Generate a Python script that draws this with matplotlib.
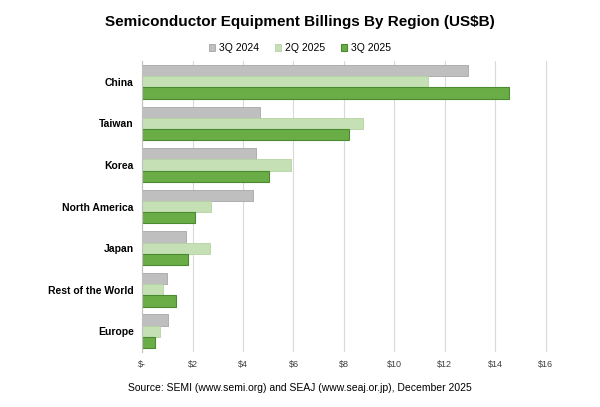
import matplotlib
matplotlib.use("Agg")
import matplotlib.pyplot as plt
import numpy as np

regions = ["China", "Taiwan", "Korea", "North America", "Japan", "Rest of the World", "Europe"]
q3_2024 = [12.92, 4.68, 4.51, 4.40, 1.72, 0.97, 1.03]
q2_2025 = [11.35, 8.76, 5.90, 2.74, 2.69, 0.83, 0.70]
q3_2025 = [14.55, 8.19, 5.04, 2.09, 1.81, 1.35, 0.49]
ticks = [0, 2, 4, 6, 8, 10, 12, 14, 16]
tick_labels = ["$-", "$2", "$4", "$6", "$8", "$10", "$12", "$14", "$16"]

plt.rcParams['font.family'] = ['Liberation Sans', 'DejaVu Sans']
fig = plt.figure(figsize=(6.0, 4.07), dpi=100)
ax = fig.add_axes([0.237, 0.135, 0.685, 0.715])

y = np.arange(len(regions))
h = 0.27
ax.barh(y - h, q3_2024, height=h, color="#bfbfbf", edgecolor="#a6a6a6", lw=0.6, label="3Q 2024")
ax.barh(y, q2_2025, height=h, color="#c5e0b4", edgecolor="#b5d3a2", lw=0.6, label="2Q 2025")
ax.barh(y + h, q3_2025, height=h, color="#6aad47", edgecolor="#4a8a30", lw=0.8, label="3Q 2025")

ax.set_ylim(len(regions) - 0.5, -0.5)
ax.set_xlim(0, 16.3)
ax.set_yticks(y)
ax.set_yticklabels(regions, fontsize=7.5, fontweight="bold")
ax.set_xticks(ticks)
ax.set_xticklabels(tick_labels, fontsize=6.5, color="#404040")
ax.tick_params(length=0, pad=6)
ax.xaxis.grid(True, color="#d9d9d9", lw=0.8)
ax.set_axisbelow(True)
for s in ["top", "right", "bottom"]:
    ax.spines[s].set_visible(False)
ax.spines["left"].set_color("#bfbfbf")

fig.text(0.5, 0.945, "Semiconductor Equipment Billings By Region (US$B)", ha="center", va="center",
         fontsize=11, fontweight="bold")
fig.legend(loc="center", bbox_to_anchor=(0.5, 0.882), ncol=3, frameon=False, fontsize=7.5,
           handlelength=0.6, handleheight=0.6, columnspacing=1.5, handletextpad=0.4)
fig.text(0.5, 0.047, "Source: SEMI (www.semi.org) and SEAJ (www.seaj.or.jp), December 2025",
         ha="center", va="center", fontsize=7.5)
fig.savefig("out.png", dpi=100)
